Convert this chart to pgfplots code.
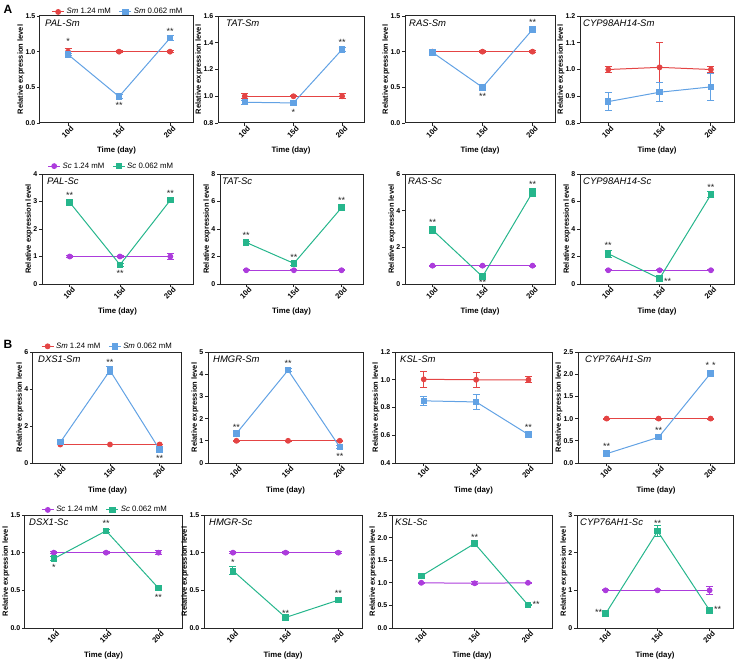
\documentclass[border=0pt]{standalone}
\usepackage{fontspec}
\setmainfont{Liberation Sans}
\setsansfont{Liberation Sans}
\usepackage{pgfplots}
\pgfplotsset{compat=1.18}
\definecolor{cred}{RGB}{228,68,68}
\definecolor{cblue}{RGB}{98,162,228}
\definecolor{cpur}{RGB}{172,60,220}
\definecolor{cgrn}{RGB}{38,182,140}
\pgfplotsset{
  panel/.style={scale only axis, clip=false, anchor=south west,
    xmin=-0.55, xmax=2.45, xtick={0,1,2}, xticklabels={10d,15d,20d},
    xtick pos=bottom, ytick pos=left, tick align=outside, major tick length=3pt,
    axis line style={line width=1pt, black!85},
    every tick/.style={black!85, line width=0.9pt},
    /pgf/number format/assume math mode=true,
    yticklabel style={font=\fontsize{7}{8}\selectfont\bfseries, inner sep=1.5pt},
    xticklabel style={font=\fontsize{7.5}{8}\selectfont\bfseries, rotate=45, anchor=north east, inner sep=1pt, xshift=3pt},
    xlabel={Time (day)}, ylabel={Relative expression level},
    xlabel style={font=\fontsize{7.8}{9}\selectfont\bfseries, yshift=-3pt},
    ylabel style={font=\fontsize{7.5}{8}\selectfont\bfseries, yshift=-4pt},
    legend image code/.code={\draw[mark repeat=2,mark phase=2] plot coordinates {(0cm,0cm) (0.21cm,0cm) (0.42cm,0cm)};},
  },
  dec/.style={/pgf/number format/.cd, fixed, zerofill, precision=1},
  leg/.style={legend style={draw=none, fill=none, legend columns=2, font=\fontsize{7.8}{9}\selectfont, inner sep=0pt,
    /tikz/every even column/.append style={column sep=6pt}}},
  base/.style={line width=1pt, mark options={solid},
    /pgfplots/error bars/y dir=both, /pgfplots/error bars/y explicit,
    /pgfplots/error bars/error bar style={line width=1pt},
    /pgfplots/error bars/error mark options={rotate=90, mark size=3.5pt, line width=1pt}},
  sA/.style={cred, mark=*, mark size=2.4pt, base},
  sB/.style={cblue, mark=square*, mark size=2.7pt, base},
  cA/.style={cpur, mark=*, mark size=2.4pt, base},
  cB/.style={cgrn, mark=square*, mark size=2.7pt, base},
}
\tikzset{
  ast/.style={font=\fontsize{9}{9}\selectfont, text=black!85, inner sep=0pt},
  ttl/.style={anchor=north west, font=\fontsize{9.5}{10}\selectfont\itshape, inner sep=0pt, xshift=5pt, yshift=-4pt},
}
\begin{document}
\begin{tikzpicture}
\useasboundingbox (0pt,0pt) rectangle (738pt,665pt);
\node[font=\fontsize{12}{12}\selectfont\bfseries] at (8pt,656pt) {A};
\node[font=\fontsize{12}{12}\selectfont\bfseries] at (8pt,321pt) {B};

% ---------------- Row A1 ----------------
\begin{axis}[panel, leg, at={(40pt,542pt)}, width=153pt, height=107pt, ymin=0, ymax=1.5, ytick={0,0.5,1,1.5}, yticklabel style={dec},
  legend style={at={(0.51,0.985)}, anchor=south}]
\addplot[sA] coordinates {(0,1.0) +- (0,0.05) (1,1.0) +- (0,0.01) (2,1.0) +- (0,0.01)};
\addplot[sB] coordinates {(0,0.96) +- (0,0.02) (1,0.37) +- (0,0.03) (2,1.19) +- (0,0.03)};
\legend{\textit{Sm} 1.24 mM, \textit{Sm} 0.062 mM}
\node[ttl] at (rel axis cs:0,1) {PAL-Sm};
\node[ast, yshift=10pt] at (axis cs:0,1.0) {*};
\node[ast, yshift=-9pt] at (axis cs:1,0.37) {**};
\node[ast, yshift=7pt] at (axis cs:2,1.19) {**};
\end{axis}

\begin{axis}[panel, at={(218pt,542pt)}, width=146pt, height=107pt, ymin=0.8, ymax=1.6, ytick={0.8,1.0,1.2,1.4,1.6}, yticklabel style={dec}]
\addplot[sA] coordinates {(0,1.0) +- (0,0.02) (1,1.0) +- (0,0.004) (2,1.0) +- (0,0.02)};
\addplot[sB] coordinates {(0,0.955) +- (0,0.015) (1,0.95) +- (0,0.01) (2,1.35) +- (0,0.015)};
\node[ttl, xshift=3pt] at (rel axis cs:0,1) {TAT-Sm};
\node[ast, yshift=-9pt] at (axis cs:1,0.95) {*};
\node[ast, yshift=7pt] at (axis cs:2,1.35) {**};
\end{axis}

\begin{axis}[panel, at={(405pt,542pt)}, width=150pt, height=107pt, ymin=0, ymax=1.5, ytick={0,0.5,1,1.5}, yticklabel style={dec}]
\addplot[sA] coordinates {(0,1.0) +- (0,0.01) (1,1.0) +- (0,0.01) (2,1.0) +- (0,0.01)};
\addplot[sB] coordinates {(0,0.99) +- (0,0.04) (1,0.50) +- (0,0.02) (2,1.31) +- (0,0.02)};
\node[ttl, xshift=-1pt] at (rel axis cs:0,1) {RAS-Sm};
\node[ast, yshift=-9pt] at (axis cs:1,0.50) {**};
\node[ast, yshift=7pt] at (axis cs:2,1.31) {**};
\end{axis}

\begin{axis}[panel, at={(580pt,542pt)}, width=154pt, height=107pt, ymin=0.8, ymax=1.2, ytick={0.8,0.9,1.0,1.1,1.2}, yticklabel style={dec}]
\addplot[sA] coordinates {(0,1.0) +- (0,0.012) (1,1.008) +- (0,0.092) (2,1.0) +- (0,0.012)};
\addplot[sB] coordinates {(0,0.88) +- (0,0.035) (1,0.915) +- (0,0.036) (2,0.935) +- (0,0.05)};
\node[ttl, xshift=-2pt] at (rel axis cs:0,1) {CYP98AH14-Sm};
\end{axis}

% ---------------- Row A2 ----------------
\begin{axis}[panel, leg, at={(42pt,381pt)}, width=151pt, height=110pt, ymin=0, ymax=4, ytick={0,1,2,3,4},
  legend style={at={(0.46,1.02)}, anchor=south}]
\addplot[cA] coordinates {(0,1.0) +- (0,0.02) (1,1.0) +- (0,0.02) (2,1.0) +- (0,0.1)};
\addplot[cB] coordinates {(0,2.97) +- (0,0.05) (1,0.70) +- (0,0.06) (2,3.05) +- (0,0.06)};
\legend{\textit{Sc} 1.24 mM, \textit{Sc} 0.062 mM}
\node[ttl] at (rel axis cs:0,1) {PAL-Sc};
\node[ast, yshift=7pt] at (axis cs:0,2.97) {**};
\node[ast, yshift=-9pt] at (axis cs:1,0.70) {**};
\node[ast, yshift=7pt] at (axis cs:2,3.05) {**};
\end{axis}

\begin{axis}[panel, at={(220pt,381pt)}, width=143pt, height=110pt, ymin=0, ymax=8, ytick={0,2,4,6,8}]
\addplot[cA] coordinates {(0,1.0) +- (0,0.02) (1,1.0) +- (0,0.02) (2,1.0) +- (0,0.02)};
\addplot[cB] coordinates {(0,3.02) +- (0,0.1) (1,1.5) +- (0,0.15) (2,5.55) +- (0,0.2)};
\node[ttl, xshift=-3pt] at (rel axis cs:0,1) {TAT-Sc};
\node[ast, yshift=7pt] at (axis cs:0,3.02) {**};
\node[ast, yshift=6pt] at (axis cs:1,1.5) {**};
\node[ast, yshift=7pt] at (axis cs:2,5.55) {**};
\end{axis}

\begin{axis}[panel, at={(405pt,381pt)}, width=150pt, height=110pt, ymin=0, ymax=6, ytick={0,2,4,6}]
\addplot[cA] coordinates {(0,1.0) +- (0,0.02) (1,1.0) +- (0,0.02) (2,1.0) +- (0,0.02)};
\addplot[cB] coordinates {(0,2.95) +- (0,0.2) (1,0.40) +- (0,0.06) (2,5.0) +- (0,0.2)};
\node[ttl, xshift=-2pt] at (rel axis cs:0,1) {RAS-Sc};
\node[ast, yshift=8pt] at (axis cs:0,2.95) {**};
\node[ast, yshift=-6pt] at (axis cs:1,0.40) {**};
\node[ast, yshift=8pt] at (axis cs:2,5.0) {**};
\end{axis}

\begin{axis}[panel, at={(580pt,381pt)}, width=154pt, height=110pt, ymin=0, ymax=8, ytick={0,2,4,6,8}]
\addplot[cA] coordinates {(0,1.0) +- (0,0.02) (1,1.0) +- (0,0.02) (2,1.0) +- (0,0.02)};
\addplot[cB] coordinates {(0,2.2) +- (0,0.25) (1,0.40) +- (0,0.05) (2,6.5) +- (0,0.2)};
\node[ttl, xshift=-2pt] at (rel axis cs:0,1) {CYP98AH14-Sc};
\node[ast, yshift=8pt] at (axis cs:0,2.2) {**};
\node[ast, xshift=8pt, yshift=-3pt] at (axis cs:1,0.40) {**};
\node[ast, yshift=7pt] at (axis cs:2,6.5) {**};
\end{axis}

% ---------------- Row B1 ----------------
\begin{axis}[panel, leg, at={(33pt,202pt)}, width=149pt, height=111pt, ymin=0, ymax=6, ytick={0,2,4,6},
  legend style={at={(0.5,1.0)}, anchor=south}]
\addplot[sA] coordinates {(0,1.0) +- (0,0.02) (1,1.0) +- (0,0.02) (2,1.0) +- (0,0.02)};
\addplot[sB] coordinates {(0,1.12) +- (0,0.08) (1,5.0) +- (0,0.2) (2,0.72) +- (0,0.05)};
\legend{\textit{Sm} 1.24 mM, \textit{Sm} 0.062 mM}
\node[ttl] at (rel axis cs:0,1) {DXS1-Sm};
\node[ast, yshift=8pt] at (axis cs:1,5.0) {**};
\node[ast, yshift=-9pt] at (axis cs:2,0.72) {**};
\end{axis}

\begin{axis}[panel, at={(208pt,202pt)}, width=155pt, height=111pt, ymin=0, ymax=5, ytick={0,1,2,3,4,5}]
\addplot[sA] coordinates {(0,1.0) +- (0,0.02) (1,1.0) +- (0,0.02) (2,1.0) +- (0,0.02)};
\addplot[sB] coordinates {(0,1.33) +- (0,0.1) (1,4.18) +- (0,0.08) (2,0.72) +- (0,0.05)};
\node[ttl] at (rel axis cs:0,1) {HMGR-Sm};
\node[ast, yshift=6pt] at (axis cs:0,1.33) {**};
\node[ast, yshift=7pt] at (axis cs:1,4.18) {**};
\node[ast, yshift=-9pt] at (axis cs:2,0.72) {**};
\end{axis}

\begin{axis}[panel, at={(395pt,202pt)}, width=157pt, height=111pt, ymin=0.4, ymax=1.2, ytick={0.4,0.6,0.8,1.0,1.2}, yticklabel style={dec}]
\addplot[sA] coordinates {(0,1.003) +- (0,0.06) (1,1.0) +- (0,0.055) (2,1.0) +- (0,0.02)};
\addplot[sB] coordinates {(0,0.848) +- (0,0.03) (1,0.84) +- (0,0.055) (2,0.605) +- (0,0.01)};
\node[ttl] at (rel axis cs:0,1) {KSL-Sm};
\node[ast, yshift=7pt] at (axis cs:2,0.605) {**};
\end{axis}

\begin{axis}[panel, at={(578pt,202pt)}, width=156pt, height=111pt, ymin=0, ymax=2.5, ytick={0,0.5,1,1.5,2,2.5}, yticklabel style={dec}]
\addplot[sA] coordinates {(0,1.0) +- (0,0.01) (1,1.0) +- (0,0.01) (2,1.0) +- (0,0.01)};
\addplot[sB] coordinates {(0,0.21) +- (0,0.03) (1,0.58) +- (0,0.04) (2,2.02) +- (0,0.05)};
\node[ttl, xshift=2pt] at (rel axis cs:0,1) {CYP76AH1-Sm};
\node[ast, yshift=7pt] at (axis cs:0,0.21) {**};
\node[ast, yshift=7pt] at (axis cs:1,0.58) {**};
\node[ast, yshift=8pt] at (axis cs:2,2.02) {*\,\,*};
\end{axis}

% ---------------- Row B2 ----------------
\begin{axis}[panel, leg, at={(25pt,37pt)}, width=157pt, height=113pt, ymin=0, ymax=1.5, ytick={0,0.5,1,1.5}, yticklabel style={dec},
  legend style={at={(0.51,0.995)}, anchor=south}]
\addplot[cA] coordinates {(0,1.0) +- (0,0.01) (1,1.0) +- (0,0.01) (2,1.0) +- (0,0.03)};
\addplot[cB] coordinates {(0,0.92) +- (0,0.03) (1,1.29) +- (0,0.02) (2,0.53) +- (0,0.02)};
\legend{\textit{Sc} 1.24 mM, \textit{Sc} 0.062 mM}
\node[ttl, xshift=-1pt] at (rel axis cs:0,1) {DSX1-Sc};
\node[ast, yshift=-9pt] at (axis cs:0,0.92) {*};
\node[ast, yshift=7pt] at (axis cs:1,1.29) {**};
\node[ast, yshift=-9pt] at (axis cs:2,0.53) {**};
\end{axis}

\begin{axis}[panel, at={(204pt,37pt)}, width=158pt, height=113pt, ymin=0, ymax=1.5, ytick={0,0.5,1,1.5}, yticklabel style={dec}]
\addplot[cA] coordinates {(0,1.0) +- (0,0.01) (1,1.0) +- (0,0.01) (2,1.0) +- (0,0.01)};
\addplot[cB] coordinates {(0,0.76) +- (0,0.05) (1,0.14) +- (0,0.02) (2,0.37) +- (0,0.02)};
\node[ttl] at (rel axis cs:0,1) {HMGR-Sc};
\node[ast, yshift=8pt] at (axis cs:0,0.76) {*};
\node[ast, yshift=4pt] at (axis cs:1,0.14) {**};
\node[ast, yshift=7pt] at (axis cs:2,0.37) {**};
\end{axis}

\begin{axis}[panel, at={(392pt,37pt)}, width=160pt, height=113pt, ymin=0, ymax=2.5, ytick={0,0.5,1,1.5,2,2.5}, yticklabel style={dec}]
\addplot[cA] coordinates {(0,1.0) +- (0,0.01) (1,0.99) +- (0,0.03) (2,1.0) +- (0,0.01)};
\addplot[cB] coordinates {(0,1.15) +- (0,0.06) (1,1.87) +- (0,0.06) (2,0.51) +- (0,0.02)};
\node[ttl, xshift=-2pt] at (rel axis cs:0,1) {KSL-Sc};
\node[ast, yshift=6pt] at (axis cs:1,1.87) {**};
\node[ast, xshift=8pt, yshift=1pt] at (axis cs:2,0.51) {**};
\end{axis}

\begin{axis}[panel, at={(577pt,37pt)}, width=156pt, height=113pt, ymin=0, ymax=3, ytick={0,1,2,3}]
\addplot[cA] coordinates {(0,1.0) +- (0,0.01) (1,1.0) +- (0,0.01) (2,1.0) +- (0,0.1)};
\addplot[cB] coordinates {(0,0.38) +- (0,0.03) (1,2.57) +- (0,0.15) (2,0.47) +- (0,0.02)};
\node[ttl, xshift=-2pt] at (rel axis cs:0,1) {CYP76AH1-Sc};
\node[ast, xshift=-7pt, yshift=1pt] at (axis cs:0,0.38) {**};
\node[ast, yshift=8pt] at (axis cs:1,2.57) {**};
\node[ast, xshift=8pt, yshift=1pt] at (axis cs:2,0.47) {**};
\end{axis}
\end{tikzpicture}
\end{document}
